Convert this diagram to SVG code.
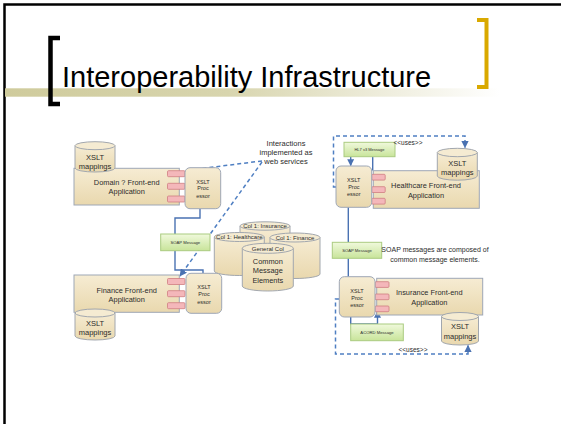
<svg xmlns="http://www.w3.org/2000/svg" width="561" height="424" viewBox="0 0 561 424">
<defs>
  <linearGradient id="band" x1="0" y1="0" x2="1" y2="0">
    <stop offset="0" stop-color="#cfcb9c"/>
    <stop offset="0.45" stop-color="#d8d5ae"/>
    <stop offset="1" stop-color="#ffffff"/>
  </linearGradient>
  <linearGradient id="tan" x1="0" y1="0" x2="0" y2="1">
    <stop offset="0" stop-color="#f6ecd3"/>
    <stop offset="1" stop-color="#e9d8ae"/>
  </linearGradient>
  <linearGradient id="green" x1="0" y1="0" x2="0" y2="1">
    <stop offset="0" stop-color="#f0f9dc"/>
    <stop offset="1" stop-color="#c8e49a"/>
  </linearGradient>
  <marker id="arr" viewBox="0 0 10 10" refX="9" refY="5" markerWidth="5" markerHeight="5" orient="auto">
    <path d="M0,0 L10,5 L0,10 z" fill="#4a72b2"/>
  </marker>
  <style>
    .t { font-family: "Liberation Sans", Arial, sans-serif; fill: #2b2b2b; text-anchor: middle; }
    .app { fill: url(#tan); stroke: #9ea7b6; stroke-width: 1; }
    .proc { fill: url(#tan); stroke: #9ea7b6; stroke-width: 1; }
    .port { fill: #f4b7ba; stroke: #cf7d82; stroke-width: 0.8; }
    .cyl { fill: url(#tan); stroke: #a2a7ae; stroke-width: 1; }
    .cyltop { fill: #f5ebd2; stroke: #a2a7ae; stroke-width: 1; }
    .msg { fill: url(#green); stroke: #aacb80; stroke-width: 1; }
    .line { fill: none; stroke: #4a72b2; stroke-width: 1.4; }
    .dash { fill: none; stroke: #4f7fc2; stroke-width: 1.5; stroke-dasharray: 4 3; }
  </style>
</defs>
<rect width="561" height="424" fill="#ffffff"/>

<!-- slide frame -->
<g id="frame">
  <path d="M4.5,424 V4.5 H561" fill="none" stroke="#000" stroke-width="2.5"/>
  <rect x="5" y="88.3" width="495" height="8.4" fill="url(#band)"/>
  <path d="M60,38 H50.5 V104 H60" fill="none" stroke="#000" stroke-width="4.5"/>
  <path d="M477,20 H486.5 V87 H477" fill="none" stroke="#d9a900" stroke-width="4"/>
  <text x="62" y="87" style="font-family:'Liberation Sans',Arial,sans-serif;font-size:29px;fill:#000">Interoperability Infrastructure</text>
</g>

<!-- connectors -->
<g id="connectors">
  <path class="line" d="M200,208.7 V218 H175 V234"/>
  <path class="line" d="M175,250.7 V270 H203 V273.3"/>
  <path class="dash" d="M262,161 L186,170.5"/>
  <path class="dash" d="M262,162 L180,276" marker-end="url(#arr)"/>
  <path class="line" d="M350.7,156.7 V165.5" marker-end="url(#arr)"/>
  <path class="line" d="M372.7,156.7 V170.5"/>
  <path class="line" d="M348.3,207.3 V242.3"/>
  <path class="line" d="M348.3,258.3 V276.7"/>
  <path class="line" d="M350.7,316.7 V324 H377.5 V311.5" marker-end="url(#arr)"/>
  <path class="dash" d="M336,187 H333.5 V136 H465 V147.5" marker-end="url(#arr)"/>
  <path class="dash" d="M339,299 H335.5 V354 H468 V345.5" marker-end="url(#arr)"/>
</g>

<!-- left top: Domain -->
<g id="domain-app">
  <rect class="app" x="74" y="168.3" width="105.3" height="36.7"/>
  <text class="t" x="126.7" y="185.2" font-size="7.4">Domain ? Front-end</text>
  <text class="t" x="126.7" y="194.3" font-size="7.4">Application</text>
</g>
<g id="domain-mappings">
  <path class="cyl" d="M75,145.7 V168 A20,4 0 0 0 115,168 V145.7"/>
  <ellipse class="cyltop" cx="95" cy="145.7" rx="20" ry="4"/>
  <text class="t" x="95" y="160.2" font-size="7.5">XSLT</text>
  <text class="t" x="95" y="168.5" font-size="7.5">mappings</text>
</g>
<g id="domain-ports">
  <rect class="port" x="167.5" y="170.7" width="17.5" height="6" rx="1"/>
  <rect class="port" x="167.5" y="183.3" width="17.5" height="6" rx="1"/>
  <rect class="port" x="167.5" y="196" width="17.5" height="6" rx="1"/>
</g>
<g id="domain-proc">
  <rect class="proc" x="185" y="167.7" width="35.7" height="41" rx="5"/>
  <text class="t" x="203" y="183.5" font-size="5.5">XSLT</text>
  <text class="t" x="203" y="190.2" font-size="5.5">Proc</text>
  <text class="t" x="203" y="197.5" font-size="5.5">essor</text>
</g>

<g id="soap-left">
  <rect class="msg" x="160.7" y="234" width="49.3" height="16.7"/>
  <text class="t" x="185.3" y="243.8" font-size="4.2">SOAP Message</text>
</g>

<g id="interactions-note">
  <text class="t" x="286" y="146" font-size="7.5">Interactions</text>
  <text class="t" x="286" y="155" font-size="7.5">implemented as</text>
  <text class="t" x="286" y="164" font-size="7.5">web services</text>
</g>

<!-- left bottom: Finance -->
<g id="finance-app">
  <rect class="app" x="74" y="275" width="105.3" height="37.3"/>
  <text class="t" x="126.7" y="292.5" font-size="7.4">Finance Front-end</text>
  <text class="t" x="126.7" y="301.8" font-size="7.4">Application</text>
</g>
<g id="finance-ports">
  <rect class="port" x="167.5" y="278.5" width="17.5" height="6" rx="1"/>
  <rect class="port" x="167.5" y="290.7" width="17.5" height="6" rx="1"/>
  <rect class="port" x="167.5" y="302.7" width="17.5" height="6" rx="1"/>
</g>
<g id="finance-proc">
  <rect class="proc" x="186" y="273.3" width="35.7" height="40" rx="5"/>
  <text class="t" x="204" y="288.5" font-size="5.5">XSLT</text>
  <text class="t" x="204" y="296" font-size="5.5">Proc</text>
  <text class="t" x="204" y="303.5" font-size="5.5">essor</text>
</g>
<g id="finance-mappings">
  <path class="cyl" d="M75,313 V336 A20,4 0 0 0 115,336 V313"/>
  <ellipse class="cyltop" cx="95" cy="313" rx="20" ry="4"/>
  <text class="t" x="95" y="325.8" font-size="7.5">XSLT</text>
  <text class="t" x="95" y="335.2" font-size="7.5">mappings</text>
</g>

<!-- central common message elements -->
<g id="col-insurance">
  <path class="cyl" d="M240,226 V262 A25,4.2 0 0 0 290,262 V226"/>
  <ellipse class="cyltop" cx="265" cy="226" rx="25" ry="4.2"/>
  <text class="t" x="265" y="228" font-size="6">Col 1: Insurance</text>
</g>
<g id="col-healthcare">
  <path class="cyl" d="M214.3,237 V271 A25,4.5 0 0 0 264.3,271 V237"/>
  <ellipse class="cyltop" cx="239.3" cy="237" rx="25" ry="4.5"/>
  <text class="t" x="239.3" y="239.3" font-size="6">Col 1: Healthcare</text>
</g>
<g id="col-finance">
  <path class="cyl" d="M270,237.5 V274 A25,4.5 0 0 0 320,274 V237.5"/>
  <ellipse class="cyltop" cx="295" cy="237.5" rx="25" ry="4.5"/>
  <text class="t" x="295" y="240" font-size="6">Col 1: Finance</text>
</g>
<g id="general-col">
  <path class="cyl" d="M242.3,248.3 V286 A25.5,5 0 0 0 293.3,286 V248.3"/>
  <ellipse class="cyltop" cx="267.8" cy="248.3" rx="25.5" ry="5"/>
  <text class="t" x="267.8" y="250.5" font-size="6">General Col</text>
  <text class="t" x="267.8" y="263.8" font-size="7.4">Common</text>
  <text class="t" x="267.8" y="272.8" font-size="7.4">Message</text>
  <text class="t" x="267.8" y="282.5" font-size="7.4">Elements</text>
</g>

<!-- right top: Healthcare -->
<g id="hl7-msg">
  <rect class="msg" x="344" y="142.3" width="51" height="14.4"/>
  <text class="t" x="369.5" y="150.9" font-size="4">HL7 v3 Message</text>
</g>
<g id="uses-top">
  <text class="t" x="408" y="145" font-size="6.5">&lt;&lt;uses&gt;&gt;</text>
</g>
<g id="healthcare-app">
  <rect class="app" x="373.3" y="170.7" width="106" height="37.6"/>
  <text class="t" x="426" y="188.2" font-size="7.4">Healthcare Front-end</text>
  <text class="t" x="426" y="197.5" font-size="7.4">Application</text>
</g>
<g id="healthcare-mappings">
  <path class="cyl" d="M437.3,152.5 V176 A20,4.2 0 0 0 477.3,176 V152.5"/>
  <ellipse class="cyltop" cx="457.3" cy="152.5" rx="20" ry="4.2"/>
  <text class="t" x="457.3" y="165.8" font-size="7.5">XSLT</text>
  <text class="t" x="457.3" y="175" font-size="7.5">mappings</text>
</g>
<g id="healthcare-ports">
  <rect class="port" x="371.7" y="174.3" width="13.5" height="5.8" rx="1"/>
  <rect class="port" x="371.7" y="186.7" width="13.5" height="5.8" rx="1"/>
  <rect class="port" x="371.7" y="198.3" width="13.5" height="5.8" rx="1"/>
</g>
<g id="healthcare-proc">
  <rect class="proc" x="336" y="166" width="35.7" height="41.3" rx="5"/>
  <text class="t" x="353.8" y="182" font-size="5.5">XSLT</text>
  <text class="t" x="353.8" y="188.7" font-size="5.5">Proc</text>
  <text class="t" x="353.8" y="196" font-size="5.5">essor</text>
</g>

<g id="soap-right">
  <rect class="msg" x="332.3" y="242.3" width="49.4" height="16"/>
  <text class="t" x="357" y="251.8" font-size="4.2">SOAP Message</text>
</g>
<g id="soap-note">
  <text class="t" x="435" y="252.4" font-size="7">SOAP messages are composed of</text>
  <text class="t" x="435" y="261.6" font-size="7">common message elements.</text>
</g>

<!-- right bottom: Insurance -->
<g id="insurance-app">
  <rect class="app" x="376.7" y="278.3" width="106" height="36.7"/>
  <text class="t" x="429.3" y="295.2" font-size="7.4">Insurance Front-end</text>
  <text class="t" x="429.3" y="304.6" font-size="7.4">Application</text>
</g>
<g id="insurance-ports">
  <rect class="port" x="375" y="281.7" width="14" height="5.7" rx="1"/>
  <rect class="port" x="375" y="294" width="14" height="5.7" rx="1"/>
  <rect class="port" x="375" y="306" width="14" height="5.7" rx="1"/>
</g>
<g id="insurance-proc">
  <rect class="proc" x="339.3" y="276.7" width="35.7" height="40.3" rx="5"/>
  <text class="t" x="357" y="292.6" font-size="5.5">XSLT</text>
  <text class="t" x="357" y="299.6" font-size="5.5">Proc</text>
  <text class="t" x="357" y="307" font-size="5.5">essor</text>
</g>
<g id="insurance-mappings">
  <path class="cyl" d="M441.5,316.5 V341 A18.5,4 0 0 0 478.5,341 V316.5"/>
  <ellipse class="cyltop" cx="460" cy="316.5" rx="18.5" ry="4"/>
  <text class="t" x="460" y="329.2" font-size="7.5">XSLT</text>
  <text class="t" x="460" y="339.2" font-size="7.5">mappings</text>
</g>
<g id="acord-msg">
  <rect class="msg" x="350.7" y="324" width="52.6" height="16.7"/>
  <text class="t" x="377" y="333.8" font-size="4.2">ACORD Message</text>
</g>
<g id="uses-bottom">
  <text class="t" x="413" y="352" font-size="6.5">&lt;&lt;uses&gt;&gt;</text>
</g>
</svg>
